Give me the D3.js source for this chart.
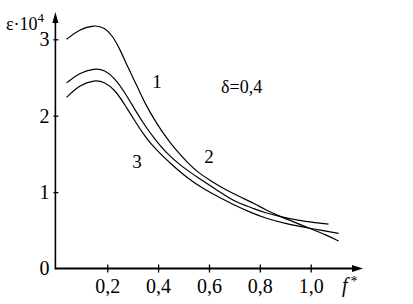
<!DOCTYPE html>
<html><head><meta charset="utf-8">
<script src="https://cdn.jsdelivr.net/npm/d3@7"></script>
<style>body{margin:0;background:#fff}svg{display:block}text{font-family:"Liberation Serif","Times New Roman",serif !important;fill:#000}</style>
</head><body>
<svg id="c" width="413" height="304"></svg>
<script>
const xTicks = [0.2, 0.4, 0.6, 0.8, 1.0];
const yTicks = [0, 1, 2, 3];
const curveNames = ["1", "2", "3"];
const f1 = [0.04,0.09,0.15,0.19,0.22,0.25,0.28,0.32,0.35,0.39,0.43,0.47,0.52,0.56,0.61,0.66,0.72,0.78,0.82,0.88,0.94,1.0,1.06,1.11];
const e1 = [3.00,3.13,3.19,3.15,3.05,2.87,2.64,2.37,2.15,1.92,1.72,1.55,1.37,1.25,1.14,1.04,0.94,0.85,0.77,0.68,0.60,0.52,0.44,0.36];
const f2 = [0.04,0.09,0.15,0.19,0.23,0.27,0.31,0.35,0.39,0.43,0.49,0.57,0.62,0.68,0.72,0.78,0.82,0.88,0.95,1.02,1.07];
const e2 = [2.43,2.56,2.62,2.60,2.49,2.30,2.07,1.86,1.68,1.52,1.34,1.16,1.05,0.92,0.85,0.78,0.73,0.68,0.63,0.60,0.58];
const f3 = [0.04,0.09,0.15,0.19,0.23,0.27,0.31,0.35,0.39,0.45,0.52,0.58,0.64,0.70,0.76,0.82,0.90,0.96,1.04,1.11];
const e3 = [2.24,2.40,2.47,2.44,2.34,2.14,1.92,1.72,1.56,1.37,1.17,1.04,0.93,0.83,0.74,0.66,0.59,0.55,0.50,0.46];

const svg = d3.select("#c");
const x = d3.scaleLinear().domain([0, 1]).range([56.4, 310.7]);
const y = d3.scaleLinear().domain([0, 3]).range([268.5, 39.3]);
const fmt = d => d.toFixed(1).replace(".", ",");
const FONT = "'Liberation Serif','Times New Roman',serif";

// x axis
const gx = svg.append("g").attr("transform", `translate(0,${y(0)})`)
  .call(d3.axisBottom(x).tickValues(xTicks).tickSize(4).tickFormat(fmt));
gx.attr("font-family", FONT);
gx.select(".domain").remove();
gx.selectAll(".tick line").attr("y1", -4).attr("y2", 4).attr("stroke", "#000").attr("stroke-width", 1.3);
gx.selectAll(".tick text").attr("y", 10).attr("dy", "0.71em").style("font-size", "20px").attr("fill", "#000");

// y axis
const gy = svg.append("g").attr("transform", `translate(${x(0) - 1},0)`)
  .call(d3.axisLeft(y).tickValues(yTicks).tickSize(2).tickFormat(d3.format("d")));
gy.attr("font-family", FONT);
gy.select(".domain").remove();
gy.selectAll(".tick line").attr("x1", -2).attr("x2", 3).attr("stroke", "#000").attr("stroke-width", 1.3)
  .filter(d => d === 0).remove();
gy.selectAll(".tick text").attr("x", -6).style("font-size", "20px").attr("fill", "#000");

// axis lines with arrows
const ox = x(0) - 1, oy = y(0);
svg.append("line").attr("x1", ox).attr("y1", oy).attr("x2", 358).attr("y2", oy).attr("stroke", "#000").attr("stroke-width", 2.2);
svg.append("path").attr("d", `M363,${oy} L352,${oy - 3.5} L352,${oy + 3.5} Z`).attr("fill", "#000");
svg.append("line").attr("x1", ox).attr("y1", oy + 1).attr("x2", ox).attr("y2", 18).attr("stroke", "#000").attr("stroke-width", 1.6);
svg.append("path").attr("d", `M${ox},12 L${ox - 3},23 L${ox + 3},23 Z`).attr("fill", "#000");

// curves
const line = d3.line().x(d => x(d[0])).y(d => y(d[1])).curve(d3.curveBasis);
const series = [[f1, e1], [f2, e2], [f3, e3]];
series.forEach(([fs, es]) => {
  svg.append("path").datum(fs.map((v, i) => [v, es[i]]))
    .attr("d", line).attr("fill", "none").attr("stroke", "#000").attr("stroke-width", 1.2);
});

// labels
const lab = (t, px, py, size, anchor) => svg.append("text").attr("x", px).attr("y", py)
  .attr("font-family", FONT).attr("text-anchor", anchor || "middle").style("font-size", size + "px").text(t);
lab(curveNames[0], 157, 88, 19);
lab(curveNames[1], 209, 163, 19);
lab(curveNames[2], 137, 168, 19);
lab("δ=0,4", 221, 93, 18, "start");

const yl = svg.append("text").attr("x", 6).attr("y", 30).attr("font-family", FONT).style("font-size", "18px");
yl.append("tspan").text("ε·10");
yl.append("tspan").attr("dy", -8).style("font-size", "13px").text("4");

const xl = svg.append("text").attr("x", 342).attr("y", 292).attr("font-family", FONT).style("font-size", "20px");
xl.append("tspan").style("font-style", "italic").text("f");
xl.append("tspan").attr("dx", 3).attr("dy", -6).style("font-size", "14px").text("*");
</script>
</body></html>
